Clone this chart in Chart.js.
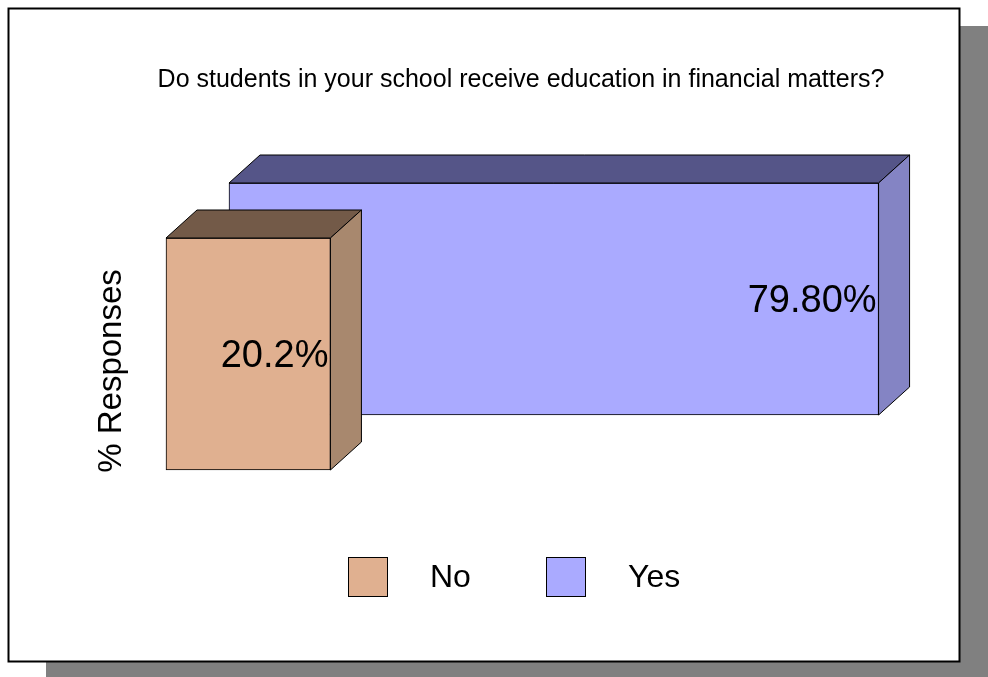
<!DOCTYPE html>
<html>
<head>
<meta charset="utf-8">
<script src="https://cdn.jsdelivr.net/npm/chart.js@4.4.0/dist/chart.umd.min.js"></script>
<style>
  html, body { margin: 0; padding: 0; background: #fff; }
  #wrap { position: relative; width: 988px; height: 677px; }
</style>
</head>
<body>
<div id="wrap"><canvas id="chart"></canvas></div>
<script>
const chartTitle = 'Do students in your school receive education in financial matters?';
const axisTitle = '% Responses';
const categories = [''];
const answers = ['No', 'Yes'];
const noValues = [20.2];
const yesValues = [79.8];
const labelDecimals = [1, 2];

const FONT = "'Liberation Sans', Arial, sans-serif";
// depth of one box, and spacing between the front and back rows
const BOX = { dx: 31, dy: 28 };
const ROW = { dx: 63, dy: 55 };

const faces = [
  { front: '#e0b090', top: '#735a48', side: '#a8886e' },
  { front: '#aaaaff', top: '#555588', side: '#8484c4' }
];

const poly = (ctx, pts, fill) => {
  ctx.beginPath();
  ctx.moveTo(pts[0][0], pts[0][1]);
  for (let i = 1; i < pts.length; i++) ctx.lineTo(pts[i][0], pts[i][1]);
  ctx.closePath();
  ctx.fillStyle = fill;
  ctx.fill();
  ctx.lineWidth = 1;
  ctx.strokeStyle = '#000';
  ctx.stroke();
};

const box3d = {
  id: 'box3d',
  beforeDraw(chart) {
    const ctx = chart.ctx;
    ctx.save();
    ctx.fillStyle = '#808080';
    ctx.fillRect(46, 26, 942, 651);
    ctx.fillStyle = '#fff';
    ctx.fillRect(8, 8, 952, 654);
    ctx.lineWidth = 2;
    ctx.strokeStyle = '#000';
    ctx.strokeRect(8.5, 8.5, 951, 653);
    ctx.restore();
  },
  beforeDatasetDraw(chart, args) {
    const ctx = chart.ctx;
    ctx.save();
    ctx.translate(ROW.dx * args.index, -ROW.dy * args.index);
  },
  afterDatasetDraw(chart, args) {
    const ctx = chart.ctx;
    const c = faces[args.index];
    const ds = chart.data.datasets[args.index];
    args.meta.data.forEach((bar, i) => {
      const p = bar.getProps(['x', 'y', 'base', 'height'], true);
      const top = p.y - p.height / 2;
      const bottom = p.y + p.height / 2;
      poly(ctx, [[p.base, top], [p.x, top], [p.x + BOX.dx, top - BOX.dy], [p.base + BOX.dx, top - BOX.dy]], c.top);
      poly(ctx, [[p.x, top], [p.x + BOX.dx, top - BOX.dy], [p.x + BOX.dx, bottom - BOX.dy], [p.x, bottom]], c.side);
      ctx.fillStyle = '#000';
      ctx.font = '38px ' + FONT;
      ctx.textAlign = 'right';
      ctx.textBaseline = 'middle';
      ctx.fillText(ds.data[i].toFixed(labelDecimals[args.index]) + '%', p.x - 2, p.y + 3);
    });
    ctx.restore();
  },
  afterDraw(chart) {
    const ctx = chart.ctx;
    ctx.save();
    ctx.fillStyle = '#000';
    ctx.font = '25px ' + FONT;
    ctx.textAlign = 'center';
    ctx.textBaseline = 'middle';
    ctx.fillText(chartTitle, 521, 80);

    ctx.save();
    ctx.translate(112, 371);
    ctx.rotate(-Math.PI / 2);
    ctx.font = '33px ' + FONT;
    ctx.fillText(axisTitle, 0, 0);
    ctx.restore();

    // legend
    ctx.font = '32px ' + FONT;
    ctx.textAlign = 'left';
    chart.data.datasets.forEach((ds, i) => {
      const x = 348 + i * 198;
      ctx.fillStyle = ds.backgroundColor;
      ctx.fillRect(x, 557, 40, 40);
      ctx.lineWidth = 1;
      ctx.strokeStyle = '#000';
      ctx.strokeRect(x + 0.5, 557.5, 39, 39);
      ctx.fillStyle = '#000';
      ctx.fillText(ds.label, x + 82, 578);
    });
    ctx.restore();
  }
};

new Chart(document.getElementById('chart'), {
  type: 'bar',
  data: {
    labels: categories,
    datasets: [
      { label: answers[0], data: noValues, backgroundColor: faces[0].front },
      { label: answers[1], data: yesValues, backgroundColor: faces[1].front }
    ]
  },
  options: {
    indexAxis: 'y',
    responsive: true,
    maintainAspectRatio: false,
    animation: false,
    events: [],
    layout: { padding: { left: 166, top: 238, right: 8, bottom: 207 } },
    datasets: {
      bar: {
        grouped: false,
        clip: false,
        categoryPercentage: 1,
        barPercentage: 1,
        borderColor: '#000',
        borderWidth: 1,
        borderSkipped: false
      }
    },
    scales: {
      x: { display: false, min: 0, max: 100 },
      y: { display: false }
    },
    plugins: {
      legend: { display: false },
      title: { display: false },
      tooltip: { enabled: false }
    }
  },
  plugins: [box3d]
});
</script>
</body>
</html>
